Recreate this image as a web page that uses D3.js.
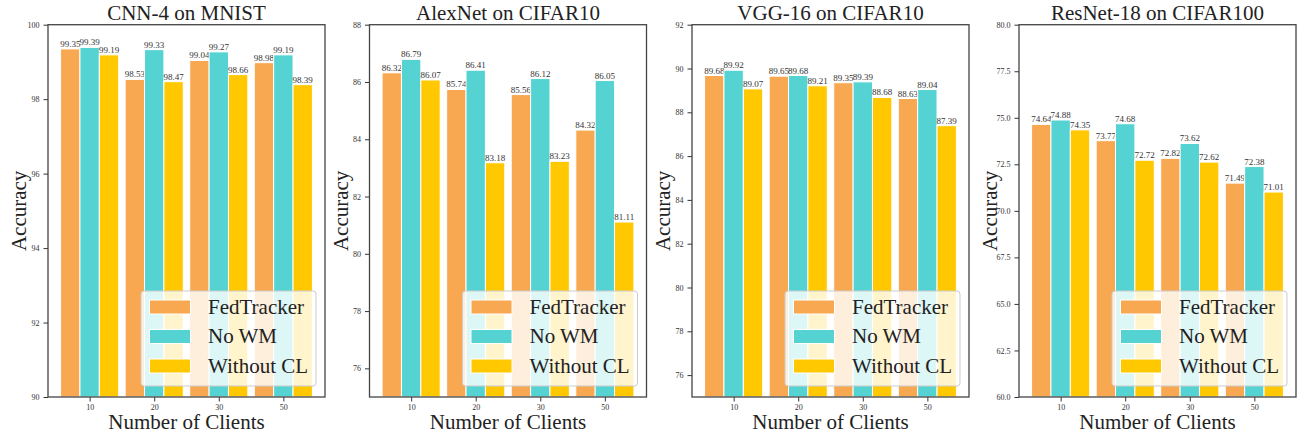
<!DOCTYPE html>
<html>
<head>
<meta charset="utf-8">
<script src="https://cdn.jsdelivr.net/npm/d3@7"></script>
<style>
body { margin: 0; background: #fff; }
svg text { font-family: "Liberation Serif", "Times New Roman", serif; }
</style>
</head>
<body>
<svg width="1297" height="436"></svg>
<script>
const clients = ["10", "20", "30", "50"]
const series = ["FedTracker", "No WM", "Without CL"]
const colores = ["#F7A850", "#55D3D3", "#FFC800"]

const titles = ["CNN-4 on MNIST", "AlexNet on CIFAR10", "VGG-16 on CIFAR10", "ResNet-18 on CIFAR100"]

const cnnFed = [99.35, 98.53, 99.04, 98.98]
const cnnNoWM = [99.39, 99.33, 99.27, 99.19]
const cnnNoCL = [99.19, 98.47, 98.66, 98.39]

const alexFed = [86.32, 85.74, 85.56, 84.32]
const alexNoWM = [86.79, 86.41, 86.12, 86.05]
const alexNoCL = [86.07, 83.18, 83.23, 81.11]

const vggFed = [89.68, 89.65, 89.35, 88.63]
const vggNoWM = [89.92, 89.68, 89.39, 89.04]
const vggNoCL = [89.07, 89.21, 88.68, 87.39]

const resFed = [74.64, 73.77, 72.82, 71.49]
const resNoWM = [74.88, 74.68, 73.62, 72.38]
const resNoCL = [74.35, 72.72, 72.62, 71.01]

const yDomains = [[90, 100], [75, 88], [75, 92], [60, 80]]
const yTicks = [
	[90, 92, 94, 96, 98, 100],
	[76, 78, 80, 82, 84, 86, 88],
	[76, 78, 80, 82, 84, 86, 88, 90, 92],
	[60, 62.5, 65, 67.5, 70, 72.5, 75, 77.5, 80]
]
const tickFormats = [d3.format("d"), d3.format("d"), d3.format("d"), d3.format(".1f")]

const allData = [
	[cnnFed, cnnNoWM, cnnNoCL],
	[alexFed, alexNoWM, alexNoCL],
	[vggFed, vggNoWM, vggNoCL],
	[resFed, resNoWM, resNoCL]
]

const lefts = [48, 369.5, 692, 1019]
const plotTop = 24.7
const plotBottom = 397
const pw = 277
const barW = 0.3

const svg = d3.select("svg")

allData.forEach((data, p) => {
	const g = svg.append("g").attr("transform", `translate(${lefts[p]},0)`)
	const xScale = d3.scaleLinear().domain([-0.645, 3.645]).range([0, pw])
	const yScale = d3.scaleLinear().domain(yDomains[p]).range([plotBottom, plotTop])

	// bars
	data.forEach((vals, s) => {
		g.selectAll(".bar" + s)
			.data(vals)
			.enter().append("rect")
			.attr("x", (d, i) => xScale(i + (s - 1) * barW - barW / 2))
			.attr("width", xScale(barW) - xScale(0))
			.attr("y", d => yScale(d))
			.attr("height", d => plotBottom - yScale(d))
			.style("fill", colores[s])
			.style("stroke", "white")
			.style("stroke-width", 1)
		g.selectAll(".lab" + s)
			.data(vals)
			.enter().append("text")
			.attr("x", (d, i) => xScale(i + (s - 1) * barW))
			.attr("y", d => yScale(d) - 2)
			.attr("text-anchor", "middle")
			.style("font-size", "9px")
			.style("fill", "#333")
			.text(d => d.toFixed(2))
	})

	// axes
	const yAxis = d3.axisLeft(yScale).tickValues(yTicks[p]).tickFormat(tickFormats[p]).tickSize(4.5).tickPadding(4)
	const xAxis = d3.axisBottom(xScale).tickValues([0, 1, 2, 3]).tickFormat(i => clients[i]).tickSize(4.5).tickPadding(3)
	const ya = g.append("g").call(yAxis)
	const xa = g.append("g").attr("transform", `translate(0,${plotBottom})`).call(xAxis)
	;[ya, xa].forEach(a => {
		a.select(".domain").remove()
		a.selectAll("line").style("stroke", "#333").style("stroke-width", 1)
		a.selectAll("text").style("font-family", "'Liberation Serif', 'Times New Roman', serif").style("font-size", "8px").style("fill", "#333")
	})

	g.append("rect")
		.attr("x", 0).attr("y", plotTop)
		.attr("width", pw).attr("height", plotBottom - plotTop)
		.style("fill", "none")
		.style("stroke", "#444")
		.style("stroke-width", 1.3)

	// legend
	const lg = g.append("g").attr("transform", `translate(${pw - 184},${291})`)
	lg.append("rect")
		.attr("width", 175).attr("height", 95)
		.attr("rx", 3)
		.style("fill", "white").style("fill-opacity", 0.8)
		.style("stroke", "#ccc").style("stroke-width", 1)
	series.forEach((name, s) => {
		lg.append("rect")
			.attr("x", 8.5).attr("y", 9 + s * 29.5)
			.attr("width", 41).attr("height", 14)
			.style("fill", colores[s])
			.style("stroke", "white")
		lg.append("text")
			.attr("x", 67).attr("y", 22.5 + s * 29.5)
			.style("font-size", "21px")
			.style("fill", "#222")
			.text(name)
	})

	g.append("text")
		.attr("x", pw / 2).attr("y", 20)
		.attr("text-anchor", "middle")
		.style("font-size", "21px")
		.style("fill", "#222")
		.text(titles[p])
	g.append("text")
		.attr("x", pw / 2).attr("y", 429)
		.attr("text-anchor", "middle")
		.style("font-size", "21px")
		.style("fill", "#222")
		.text("Number of Clients")
	g.append("text")
		.attr("transform", `translate(-22,${(plotTop + plotBottom) / 2}) rotate(-90)`)
		.attr("text-anchor", "middle")
		.style("font-size", "21px")
		.style("fill", "#222")
		.text("Accuracy")
})
</script>
</body>
</html>
